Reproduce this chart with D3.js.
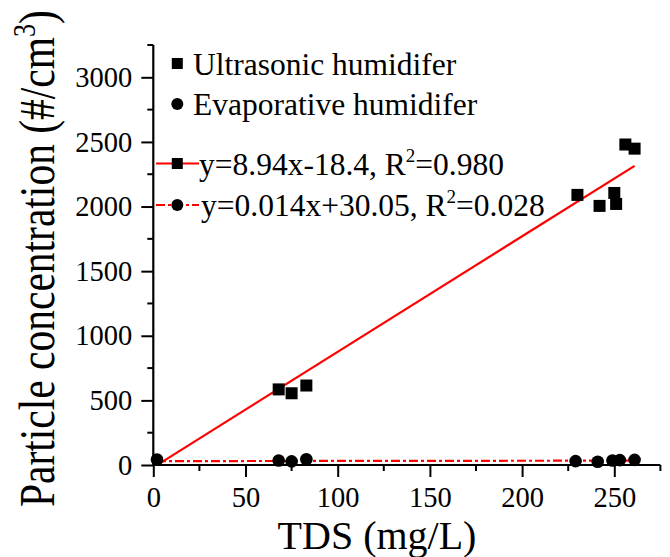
<!DOCTYPE html>
<html>
<head>
<meta charset="utf-8">
<script src="https://cdn.jsdelivr.net/npm/d3@7/dist/d3.min.js"></script>
<style>
  html, body { margin: 0; padding: 0; background: #fff; }
  svg { display: block; }
</style>
</head>
<body>
<svg id="chart" width="670" height="557"></svg>
<script>
// ---- data ----
const tdsUltra = [68, 75, 83, 230, 242, 250, 251, 256, 261];
const ultraConc = [585, 555, 615, 2090, 2005, 2105, 2020, 2480, 2448];
const tdsEvap = [2, 68, 75, 83, 229, 241, 249, 253, 261];
const evapConc = [42, 35, 28, 45, 30, 25, 35, 38, 40];
const fitSlopes = [8.94, 0.014];
const fitIntercepts = [-18.4, 30.05];
const fitRange = [2, 261];
const seriesNames = ["Ultrasonic humidifer", "Evaporative humidifer"];
const fitLabels = [["y=8.94x-18.4, R", "2", "=0.980"], ["y=0.014x+30.05, R", "2", "=0.028"]];
const xTicks = [0, 50, 100, 150, 200, 250];
const yTicks = [0, 500, 1000, 1500, 2000, 2500, 3000];

// ---- layout ----
const FONT = '"Liberation Serif", "Times New Roman", Times, serif';
const svg = d3.select("#chart").attr("font-family", FONT);
const x = d3.scaleLinear().domain([0, 275]).range([153.3, 660.4]);
const y = d3.scaleLinear().domain([0, 3250]).range([465, 45]);
const red = "#ff0000";

// fit lines
const fitStyles = [null, "9,3,3,3"];
fitSlopes.forEach((m, i) => {
  const line = d3.line().x(d => x(d)).y(d => y(m * d + fitIntercepts[i]));
  svg.append("path")
    .attr("d", line(fitRange))
    .attr("fill", "none")
    .attr("stroke", red)
    .attr("stroke-width", 2.2)
    .attr("stroke-dasharray", fitStyles[i]);
});

// points
const sq = 12;
svg.append("g").selectAll("rect")
  .data(d3.zip(tdsUltra, ultraConc))
  .join("rect")
  .attr("x", d => x(d[0]) - sq / 2)
  .attr("y", d => y(d[1]) - sq / 2)
  .attr("width", sq).attr("height", sq)
  .attr("fill", "#000");

svg.append("g").selectAll("circle")
  .data(d3.zip(tdsEvap, evapConc))
  .join("circle")
  .attr("cx", d => x(d[0]))
  .attr("cy", d => y(d[1]))
  .attr("r", 6.3)
  .attr("fill", "#000");

// axes
const fmt = d3.format("d");
const xAxis = d3.axisBottom(x).tickValues(xTicks).tickFormat(fmt).tickSize(12).tickPadding(10);
const yAxis = d3.axisLeft(y).tickValues(yTicks).tickFormat(fmt).tickSize(12).tickPadding(9);

const gx = svg.append("g").attr("transform", `translate(0,${y(0)})`).call(xAxis);
const gy = svg.append("g").attr("transform", `translate(${x(0)},0)`).call(yAxis);

// minor ticks
const xMinor = d3.range(25, 276, 50);
const yMinor = d3.range(250, 3251, 500);
gx.selectAll(".minor").data(xMinor).join("line")
  .attr("class", "minor")
  .attr("x1", d => x(d)).attr("x2", d => x(d))
  .attr("y1", 0).attr("y2", 6)
  .attr("stroke", "#000").attr("stroke-width", 2);
gy.selectAll(".minor").data(yMinor).join("line")
  .attr("class", "minor")
  .attr("y1", d => y(d)).attr("y2", d => y(d))
  .attr("x1", 0).attr("x2", -6)
  .attr("stroke", "#000").attr("stroke-width", 2);

[gx, gy].forEach(g => {
  g.attr("font-family", FONT).attr("font-size", 28.5);
  g.select(".domain").attr("stroke", "#000").attr("stroke-width", 2.2);
  g.selectAll(".tick line").attr("stroke", "#000").attr("stroke-width", 2);
  g.selectAll(".tick text").attr("fill", "#000");
});
gx.select(".domain").attr("d", `M${x(0)},0H${x(275)}`);
gy.select(".domain").attr("d", `M0,${y(3250)}V${y(0) + 1}`);

// axis titles
svg.append("text")
  .attr("x", 377)
  .attr("y", 549)
  .attr("text-anchor", "middle")
  .attr("font-size", 40)
  .attr("fill", "#000")
  .text("TDS (mg/L)");

const yt = svg.append("text")
  .attr("transform", `translate(54,507) rotate(-90) scale(1,1.2)`)
  .attr("text-anchor", "start")
  .attr("font-size", 41.5)
  .attr("fill", "#000");
yt.append("tspan").text("Particle concentration (#/cm");
yt.append("tspan").attr("dy", -16).attr("font-size", 26).text("3");
yt.append("tspan").attr("dy", 16).text(")");

// legend
const lx = 177.3;
const legRows = [63.5, 104, 163.5, 205];
const LF = 31.5;
const lg = svg.append("g").attr("fill", "#000");
lg.append("rect").attr("x", lx - 5.5).attr("y", legRows[0] - 5.5).attr("width", 11).attr("height", 11);
lg.append("circle").attr("cx", lx).attr("cy", legRows[1]).attr("r", 6);
lg.append("text").attr("x", 193).attr("y", legRows[0] + 11).attr("font-size", LF).text(seriesNames[0]);
lg.append("text").attr("x", 193).attr("y", legRows[1] + 11).attr("font-size", LF).text(seriesNames[1]);

fitLabels.forEach((lab, i) => {
  const ry = legRows[2 + i];
  lg.append("line").attr("x1", 156).attr("x2", 199).attr("y1", ry).attr("y2", ry)
    .attr("stroke", red).attr("stroke-width", 2.2).attr("stroke-dasharray", fitStyles[i]);
  if (i === 0) {
    lg.append("rect").attr("x", lx - 5.5).attr("y", ry - 5.5).attr("width", 11).attr("height", 11);
  } else {
    lg.append("circle").attr("cx", lx).attr("cy", ry).attr("r", 6);
  }
  const t = lg.append("text").attr("x", 199 + (i ? 2 : 0)).attr("y", ry + 11).attr("font-size", LF);
  t.append("tspan").text(lab[0]);
  t.append("tspan").attr("dy", -13).attr("font-size", 19).text(lab[1]);
  t.append("tspan").attr("dy", 13).text(lab[2]);
});
</script>
</body>
</html>
